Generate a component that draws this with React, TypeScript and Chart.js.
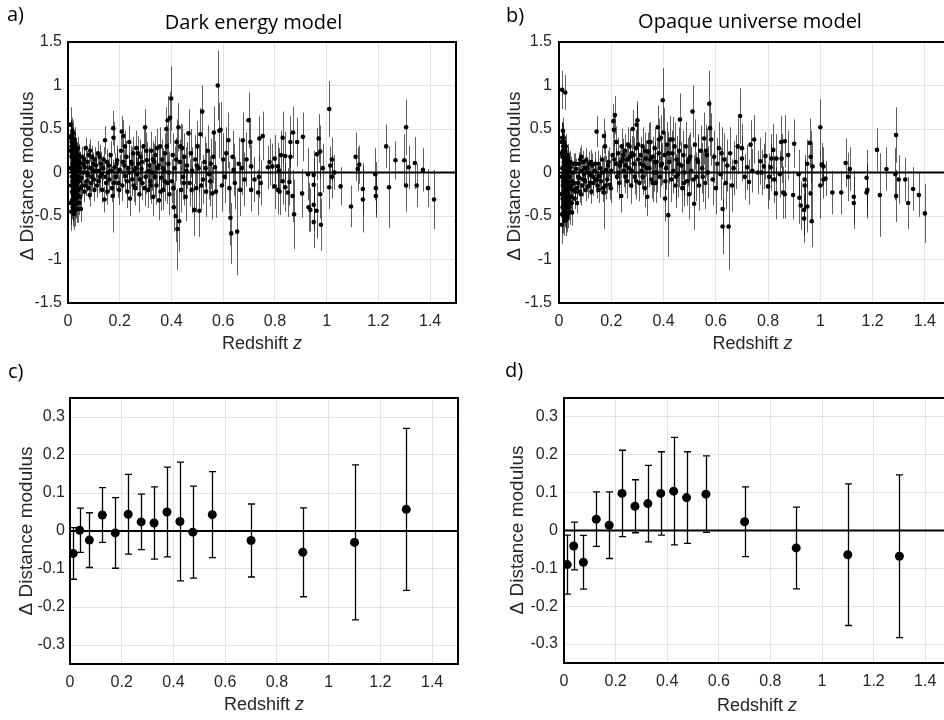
import React, { useEffect, useRef } from 'react';
import { Chart, registerables } from 'chart.js';

Chart.register(...registerables);

type SN = [number, number, number]; // [redshift z, Δ distance modulus, error]

// ---------- axis ticks ----------
const xTickValues = [0, 0.2, 0.4, 0.6, 0.8, 1, 1.2, 1.4];
const yTickValuesAll = [-1.5, -1, -0.5, 0, 0.5, 1, 1.5];
const yTickValuesBinned = [-0.3, -0.2, -0.1, 0, 0.1, 0.2, 0.3];

// ---------- text ----------
const panelLabels = ['a)', 'b)', 'c)', 'd)'];
const panelTitles = ['Dark energy model', 'Opaque universe model'];
const xAxisTitle = ['Redshift ', 'z'];
const yAxisTitle = 'Δ Distance modulus';

// ---------- panel a: dark energy model, individual supernovae ----------
const darkLowZ: SN[] = [
  [0.010, 0.55, 0.20], [0.012, 0.42, 0.18], [0.013, 0.30, 0.22], [0.014, 0.18, 0.25], [0.015, -0.05, 0.30],
  [0.016, 0.36, 0.16], [0.016, -0.22, 0.25], [0.017, 0.48, 0.15], [0.018, 0.10, 0.20], [0.018, -0.40, 0.22],
  [0.019, 0.25, 0.18], [0.020, -0.12, 0.22], [0.020, 0.05, 0.18], [0.021, 0.38, 0.14], [0.022, -0.30, 0.20],
  [0.022, 0.15, 0.16], [0.023, -0.02, 0.20], [0.024, 0.28, 0.15], [0.024, -0.18, 0.18], [0.025, 0.08, 0.16],
  [0.026, -0.44, 0.18], [0.026, 0.20, 0.14], [0.027, -0.08, 0.17], [0.028, 0.33, 0.13], [0.029, -0.25, 0.16],
  [0.030, 0.02, 0.15], [0.031, 0.12, 0.14], [0.032, -0.36, 0.17], [0.033, -0.14, 0.15], [0.034, 0.22, 0.13],
  [0.035, -0.04, 0.14], [0.036, 0.08, 0.13], [0.037, -0.42, 0.16], [0.038, 0.16, 0.13], [0.040, -0.20, 0.14],
  [0.041, 0.03, 0.12], [0.043, -0.10, 0.13], [0.045, 0.12, 0.12], [0.047, -0.28, 0.14], [0.048, 0.05, 0.12],
  [0.050, -0.42, 0.15], [0.052, -0.06, 0.12], [0.054, 0.18, 0.12], [0.056, -0.15, 0.12], [0.058, 0.00, 0.12],
  [0.060, 0.10, 0.12],
];
const darkLowZMore: SN[] = [
  [0.009, 0.25, 0.22], [0.010, -0.35, 0.25], [0.011, 0.05, 0.28], [0.011, 0.40, 0.20], [0.012, -0.15, 0.26],
  [0.013, -0.45, 0.22], [0.014, 0.35, 0.18], [0.015, 0.20, 0.20], [0.016, -0.32, 0.22], [0.017, 0.02, 0.22],
  [0.017, -0.10, 0.20], [0.018, 0.30, 0.16], [0.019, -0.25, 0.20], [0.020, 0.45, 0.15], [0.021, -0.38, 0.18],
  [0.022, 0.00, 0.18], [0.023, 0.22, 0.15], [0.024, -0.48, 0.18], [0.025, -0.12, 0.18], [0.026, 0.38, 0.14],
  [0.027, 0.12, 0.15], [0.028, -0.20, 0.16], [0.029, 0.25, 0.14], [0.030, -0.30, 0.16], [0.031, -0.08, 0.15],
  [0.032, 0.18, 0.14], [0.033, -0.42, 0.16], [0.034, 0.05, 0.14], [0.036, -0.25, 0.15], [0.038, 0.28, 0.13],
  [0.039, -0.05, 0.14], [0.042, 0.20, 0.13], [0.044, -0.35, 0.14], [0.046, 0.10, 0.13], [0.049, -0.18, 0.13],
];
const darkNearZ: SN[] = [
  [0.063, -0.22, 0.12], [0.066, 0.06, 0.12], [0.069, 0.28, 0.12], [0.072, -0.10, 0.12], [0.075, 0.12, 0.13],
  [0.078, -0.03, 0.12], [0.081, 0.20, 0.13], [0.084, -0.26, 0.13], [0.087, 0.05, 0.12], [0.090, -0.12, 0.13],
  [0.093, 0.18, 0.13], [0.096, 0.02, 0.12], [0.100, -0.08, 0.13], [0.104, 0.15, 0.14], [0.108, 0.08, 0.13],
  [0.112, -0.15, 0.14], [0.116, 0.22, 0.14], [0.120, 0.02, 0.14], [0.124, -0.05, 0.14], [0.128, 0.10, 0.14],
  [0.132, -0.20, 0.15], [0.136, 0.05, 0.14], [0.141, -0.31, 0.15], [0.143, 0.37, 0.16], [0.147, -0.12, 0.15],
  [0.150, 0.12, 0.15], [0.155, 0.00, 0.15], [0.160, -0.08, 0.15], [0.165, 0.20, 0.16], [0.170, -0.18, 0.16],
  [0.173, -0.27, 0.42], [0.175, 0.51, 0.20], [0.176, 0.40, 0.18], [0.180, 0.06, 0.16], [0.185, -0.05, 0.16],
  [0.190, 0.14, 0.17], [0.195, -0.12, 0.17], [0.200, 0.03, 0.17],
];
const darkBandMore: SN[] = [
  [0.062, 0.15, 0.12], [0.068, -0.15, 0.12], [0.074, 0.00, 0.12], [0.080, -0.18, 0.13], [0.086, 0.25, 0.13],
  [0.092, -0.05, 0.13], [0.098, 0.10, 0.13], [0.102, -0.20, 0.13], [0.110, 0.02, 0.13], [0.118, -0.10, 0.14],
  [0.122, 0.18, 0.14], [0.130, -0.02, 0.14], [0.138, 0.15, 0.14], [0.145, -0.05, 0.15], [0.152, -0.22, 0.15],
  [0.158, 0.08, 0.15], [0.168, 0.02, 0.16], [0.178, -0.12, 0.16], [0.188, 0.10, 0.17], [0.198, -0.20, 0.17],
  [0.212, 0.12, 0.18], [0.220, 0.30, 0.18], [0.228, -0.10, 0.18], [0.236, 0.00, 0.19], [0.246, 0.10, 0.19],
  [0.254, -0.15, 0.19], [0.262, 0.05, 0.20], [0.270, 0.22, 0.20], [0.278, -0.08, 0.20], [0.286, 0.12, 0.20],
  [0.296, -0.18, 0.21], [0.303, 0.25, 0.21], [0.312, 0.02, 0.21], [0.320, -0.15, 0.21], [0.328, 0.15, 0.21],
  [0.336, -0.05, 0.22], [0.344, 0.28, 0.22], [0.350, 0.08, 0.22], [0.358, -0.22, 0.22], [0.366, 0.05, 0.23],
  [0.374, -0.10, 0.23], [0.382, 0.30, 0.24], [0.390, 0.00, 0.24], [0.407, -0.18, 0.25], [0.418, 0.15, 0.25],
  [0.435, 0.30, 0.26], [0.448, -0.12, 0.26], [0.458, 0.02, 0.27], [0.478, -0.20, 0.27], [0.498, 0.08, 0.28],
  [0.515, -0.15, 0.28], [0.532, 0.05, 0.29], [0.550, -0.10, 0.29], [0.562, 0.18, 0.30],
];
const darkMidZ: SN[] = [
  [0.205, 0.25, 0.18], [0.208, 0.47, 0.18], [0.210, -0.15, 0.18], [0.214, 0.42, 0.18], [0.218, 0.08, 0.18],
  [0.222, -0.04, 0.18], [0.226, 0.18, 0.18], [0.230, -0.22, 0.19], [0.234, 0.05, 0.18], [0.237, 0.35, 0.19],
  [0.240, -0.30, 0.20], [0.244, 0.12, 0.19], [0.248, -0.08, 0.19], [0.252, 0.22, 0.19], [0.256, 0.02, 0.19],
  [0.260, -0.18, 0.20], [0.264, 0.28, 0.20], [0.268, -0.02, 0.19], [0.272, 0.10, 0.20], [0.276, -0.25, 0.21],
  [0.280, 0.18, 0.20], [0.284, 0.04, 0.20], [0.288, -0.12, 0.20], [0.292, 0.30, 0.21], [0.298, 0.52, 0.21],
  [0.300, -0.05, 0.20], [0.305, 0.14, 0.21], [0.310, -0.20, 0.21], [0.314, 0.08, 0.21], [0.318, -0.10, 0.21],
  [0.322, 0.25, 0.22], [0.326, 0.00, 0.21], [0.330, -0.28, 0.22], [0.334, 0.12, 0.21], [0.338, 0.20, 0.22],
  [0.342, -0.15, 0.22], [0.346, 0.05, 0.22], [0.352, -0.32, 0.23], [0.356, 0.30, 0.22], [0.360, -0.06, 0.22],
  [0.364, 0.15, 0.23], [0.368, -0.20, 0.23], [0.372, 0.02, 0.23], [0.376, 0.22, 0.23], [0.380, 0.50, 0.25],
  [0.384, -0.12, 0.24], [0.385, 0.60, 0.28], [0.388, 0.10, 0.24], [0.392, -0.25, 0.24], [0.395, 0.63, 0.30],
  [0.399, 0.85, 0.37],
];
const darkFarZ: SN[] = [
  [0.402, -0.10, 0.25], [0.405, 0.20, 0.25], [0.409, -0.40, 0.28], [0.412, 0.05, 0.25], [0.416, -0.50, 0.30],
  [0.420, 0.35, 0.26], [0.423, -0.65, 0.47], [0.427, 0.52, 0.28], [0.430, -0.56, 0.35], [0.433, 0.12, 0.26],
  [0.437, -0.20, 0.26], [0.441, 0.28, 0.27], [0.445, -0.05, 0.26], [0.450, 0.18, 0.27], [0.455, -0.28, 0.28],
  [0.460, 0.08, 0.27], [0.466, 0.45, 0.28], [0.470, -0.12, 0.27], [0.475, 0.22, 0.28], [0.480, 0.02, 0.27],
  [0.488, -0.43, 0.30], [0.492, 0.15, 0.28], [0.496, -0.18, 0.28], [0.500, 0.30, 0.29], [0.505, 0.05, 0.28],
  [0.508, -0.44, 0.30], [0.512, 0.44, 0.30], [0.519, 0.70, 0.30], [0.522, -0.08, 0.28], [0.528, 0.12, 0.29],
  [0.534, -0.22, 0.29], [0.540, 0.25, 0.29], [0.546, -0.02, 0.29], [0.552, 0.10, 0.29], [0.558, -0.24, 0.30],
  [0.564, 0.46, 0.30], [0.568, 0.06, 0.30], [0.572, -0.22, 0.30], [0.579, 1.00, 0.40], [0.585, 0.48, 0.32],
  [0.590, 0.49, 0.32], [0.595, -0.15, 0.30], [0.600, 0.15, 0.30], [0.606, -0.05, 0.30], [0.612, 0.22, 0.30],
  [0.620, 0.37, 0.32], [0.624, -0.18, 0.30], [0.628, -0.52, 0.32], [0.631, -0.70, 0.35], [0.636, 0.18, 0.30],
  [0.640, 0.03, 0.30], [0.645, -0.12, 0.30], [0.654, -0.68, 0.50], [0.660, 0.10, 0.30], [0.666, -0.20, 0.30],
  [0.672, 0.05, 0.31], [0.676, 0.37, 0.32], [0.682, -0.08, 0.31], [0.690, 0.15, 0.31], [0.698, 0.60, 0.32],
];
const darkHighZ: SN[] = [
  [0.705, 0.35, 0.28], [0.708, 0.07, 0.25], [0.708, -0.20, 0.25], [0.721, -0.08, 0.26], [0.735, -0.23, 0.26],
  [0.740, 0.39, 0.26], [0.753, 0.42, 0.28], [0.738, -0.05, 0.24], [0.745, -0.12, 0.26], [0.773, 0.06, 0.25],
  [0.779, 0.12, 0.27], [0.790, 0.07, 0.26], [0.799, 0.16, 0.27], [0.799, -0.16, 0.26], [0.812, 0.07, 0.27],
  [0.815, 0.02, 0.26], [0.812, -0.20, 0.28], [0.818, -0.22, 0.27], [0.823, 0.20, 0.28], [0.830, 0.40, 0.30],
  [0.830, -0.10, 0.27], [0.840, 0.19, 0.28], [0.840, -0.17, 0.28], [0.850, -0.23, 0.28], [0.856, -0.11, 0.27],
  [0.860, 0.35, 0.30], [0.860, 0.18, 0.28], [0.868, -0.27, 0.30], [0.870, 0.46, 0.30], [0.874, -0.48, 0.40],
  [0.886, 0.35, 0.28], [0.908, 0.41, 0.28], [0.905, -0.24, 0.28], [0.928, -0.02, 0.30], [0.930, -0.40, 0.28],
  [0.937, -0.43, 0.25], [0.950, -0.03, 0.28], [0.950, -0.14, 0.30], [0.950, -0.37, 0.30], [0.950, -0.57, 0.30],
  [0.962, 0.21, 0.30], [0.961, -0.44, 0.32], [0.969, 0.39, 0.28], [0.975, 0.24, 0.30], [0.975, -0.25, 0.28],
  [0.978, -0.60, 0.30], [0.985, 0.05, 0.28], [1.010, 0.73, 0.32], [1.010, -0.17, 0.25], [1.014, 0.08, 0.22],
  [1.020, 0.15, 0.25], [1.020, -0.05, 0.25], [1.030, 0.00, 0.20], [1.054, -0.16, 0.22], [1.094, -0.39, 0.24],
  [1.112, 0.18, 0.28], [1.120, 0.04, 0.25], [1.126, 0.09, 0.22], [1.140, -0.19, 0.30], [1.140, -0.31, 0.38],
  [1.188, -0.02, 0.30], [1.190, -0.18, 0.30], [1.190, -0.27, 0.25], [1.230, 0.30, 0.25], [1.241, -0.17, 0.47],
  [1.266, 0.14, 0.22], [1.300, 0.14, 0.30], [1.307, 0.52, 0.32], [1.307, -0.15, 0.30], [1.317, 0.06, 0.25],
  [1.341, 0.11, 0.30], [1.348, -0.15, 0.25], [1.372, 0.03, 0.25], [1.392, -0.18, 0.22], [1.415, -0.31, 0.34],
];

// ---------- panel b: opaque universe model, individual supernovae ----------
const opaqueLowZ: SN[] = [
  [0.012, 0.95, 0.22], [0.024, 0.92, 0.20], [0.010, 0.22, 0.25], [0.011, -0.60, 0.22], [0.012, 0.40, 0.18],
  [0.013, 0.05, 0.28], [0.014, -0.30, 0.25], [0.015, 0.48, 0.15], [0.015, -0.15, 0.22], [0.016, 0.30, 0.18],
  [0.017, -0.50, 0.20], [0.018, 0.12, 0.20], [0.018, -0.05, 0.22], [0.019, -0.38, 0.20], [0.020, 0.35, 0.15],
  [0.020, -0.22, 0.20], [0.021, 0.02, 0.18], [0.022, 0.18, 0.16], [0.022, -0.45, 0.18], [0.023, -0.10, 0.18],
  [0.024, 0.26, 0.15], [0.025, -0.30, 0.18], [0.026, 0.08, 0.16], [0.026, -0.55, 0.18], [0.027, -0.18, 0.17],
  [0.028, 0.15, 0.14], [0.029, -0.02, 0.16], [0.030, -0.40, 0.17], [0.031, 0.05, 0.15], [0.032, -0.25, 0.16],
  [0.033, 0.20, 0.13], [0.034, -0.12, 0.15], [0.035, -0.47, 0.17], [0.036, 0.02, 0.14], [0.037, -0.32, 0.15],
  [0.038, 0.10, 0.13], [0.040, -0.18, 0.14], [0.041, -0.05, 0.13], [0.043, -0.45, 0.15], [0.045, 0.06, 0.12],
  [0.047, -0.28, 0.14], [0.048, -0.10, 0.12], [0.050, -0.46, 0.15], [0.052, 0.00, 0.12], [0.054, -0.20, 0.12],
  [0.056, 0.10, 0.12], [0.058, -0.12, 0.12], [0.060, -0.30, 0.12],
];
const opaqueLowZMore: SN[] = [
  [0.009, -0.25, 0.25], [0.010, 0.35, 0.22], [0.011, -0.05, 0.28], [0.012, -0.48, 0.22], [0.013, 0.18, 0.24],
  [0.014, -0.40, 0.22], [0.015, 0.25, 0.18], [0.016, -0.10, 0.22], [0.017, -0.35, 0.20], [0.017, 0.40, 0.16],
  [0.018, -0.22, 0.20], [0.019, 0.08, 0.20], [0.020, -0.55, 0.18], [0.021, 0.28, 0.15], [0.022, -0.30, 0.18],
  [0.023, 0.12, 0.16], [0.024, -0.40, 0.18], [0.025, -0.05, 0.17], [0.026, 0.30, 0.14], [0.027, -0.48, 0.17],
  [0.028, -0.12, 0.16], [0.029, 0.10, 0.15], [0.030, -0.22, 0.16], [0.031, -0.52, 0.17], [0.032, 0.00, 0.15],
  [0.033, -0.35, 0.15], [0.034, 0.15, 0.14], [0.036, -0.20, 0.15], [0.038, -0.40, 0.15], [0.039, 0.05, 0.14],
  [0.042, -0.28, 0.14], [0.044, 0.12, 0.13], [0.046, -0.15, 0.13], [0.049, -0.35, 0.14],
];
const opaqueNearZ: SN[] = [
  [0.063, -0.22, 0.12], [0.066, 0.04, 0.12], [0.069, -0.35, 0.12], [0.072, -0.12, 0.12], [0.075, 0.10, 0.13],
  [0.078, -0.06, 0.12], [0.081, 0.15, 0.13], [0.084, -0.25, 0.13], [0.087, 0.02, 0.12], [0.090, -0.15, 0.13],
  [0.093, 0.12, 0.13], [0.096, -0.02, 0.12], [0.100, -0.10, 0.13], [0.104, 0.14, 0.14], [0.108, 0.05, 0.13],
  [0.112, -0.16, 0.14], [0.116, 0.10, 0.14], [0.120, -0.03, 0.14], [0.124, -0.22, 0.14], [0.128, 0.08, 0.14],
  [0.132, -0.12, 0.15], [0.136, 0.02, 0.14], [0.140, -0.08, 0.15], [0.144, 0.47, 0.18], [0.147, -0.15, 0.15],
  [0.150, 0.10, 0.15], [0.155, -0.04, 0.15], [0.160, -0.10, 0.15], [0.165, 0.15, 0.16], [0.170, -0.18, 0.16],
  [0.172, -0.23, 0.42], [0.172, 0.42, 0.20], [0.176, 0.30, 0.18], [0.180, 0.03, 0.16], [0.185, -0.08, 0.16],
  [0.190, 0.12, 0.17], [0.195, -0.14, 0.17], [0.200, 0.02, 0.17],
];
const opaqueBandMore: SN[] = [
  [0.062, 0.10, 0.12], [0.068, -0.18, 0.12], [0.074, -0.05, 0.12], [0.080, -0.22, 0.13], [0.086, 0.18, 0.13],
  [0.092, -0.08, 0.13], [0.098, 0.05, 0.13], [0.102, -0.20, 0.13], [0.110, 0.00, 0.13], [0.118, -0.12, 0.14],
  [0.122, 0.12, 0.14], [0.130, -0.05, 0.14], [0.138, 0.10, 0.14], [0.145, -0.08, 0.15], [0.152, -0.20, 0.15],
  [0.158, 0.05, 0.15], [0.168, 0.00, 0.16], [0.178, -0.15, 0.16], [0.188, 0.08, 0.17], [0.198, -0.18, 0.17],
  [0.212, 0.15, 0.18], [0.220, 0.35, 0.18], [0.228, 0.00, 0.18], [0.236, 0.12, 0.19], [0.246, 0.20, 0.19],
  [0.254, -0.05, 0.19], [0.262, 0.15, 0.20], [0.270, 0.30, 0.20], [0.278, 0.02, 0.20], [0.286, 0.20, 0.20],
  [0.296, -0.10, 0.21], [0.303, 0.32, 0.21], [0.312, 0.10, 0.21], [0.320, -0.05, 0.21], [0.328, 0.25, 0.21],
  [0.336, 0.05, 0.22], [0.344, 0.35, 0.22], [0.350, 0.15, 0.22], [0.358, -0.12, 0.22], [0.366, 0.12, 0.23],
  [0.374, 0.00, 0.23], [0.382, 0.38, 0.24], [0.390, 0.08, 0.24], [0.407, -0.10, 0.25], [0.418, 0.22, 0.25],
  [0.435, 0.38, 0.26], [0.448, -0.05, 0.26], [0.458, 0.10, 0.27], [0.478, -0.12, 0.27], [0.498, 0.15, 0.28],
  [0.515, -0.08, 0.28], [0.532, 0.12, 0.29], [0.550, -0.05, 0.29], [0.562, 0.25, 0.30],
];
const opaqueMidZ: SN[] = [
  [0.205, 0.20, 0.18], [0.208, 0.59, 0.20], [0.210, 0.49, 0.19], [0.214, 0.66, 0.22], [0.218, 0.10, 0.18],
  [0.222, -0.05, 0.18], [0.226, 0.22, 0.18], [0.230, -0.12, 0.19], [0.234, 0.08, 0.18], [0.238, -0.27, 0.19],
  [0.240, 0.30, 0.20], [0.244, 0.15, 0.19], [0.248, 0.02, 0.19], [0.252, 0.25, 0.19], [0.256, 0.08, 0.19],
  [0.260, -0.10, 0.20], [0.264, 0.32, 0.20], [0.268, 0.05, 0.19], [0.272, 0.18, 0.20], [0.276, -0.15, 0.21],
  [0.280, 0.22, 0.20], [0.282, 0.50, 0.22], [0.286, 0.10, 0.20], [0.290, -0.05, 0.20], [0.294, 0.28, 0.21],
  [0.297, 0.55, 0.22], [0.300, 0.60, 0.22], [0.304, 0.15, 0.21], [0.308, -0.12, 0.21], [0.312, 0.20, 0.21],
  [0.316, 0.02, 0.21], [0.320, 0.30, 0.22], [0.324, 0.08, 0.21], [0.328, -0.18, 0.22], [0.332, 0.16, 0.21],
  [0.338, -0.28, 0.22], [0.342, 0.24, 0.22], [0.346, 0.05, 0.22], [0.350, 0.35, 0.23], [0.354, -0.08, 0.22],
  [0.358, 0.18, 0.23], [0.362, 0.00, 0.22], [0.366, 0.28, 0.23], [0.370, -0.12, 0.23], [0.374, 0.12, 0.23],
  [0.378, 0.52, 0.25], [0.382, 0.22, 0.24], [0.386, -0.05, 0.24], [0.390, 0.40, 0.26], [0.394, 0.10, 0.24],
  [0.397, 0.83, 0.37], [0.400, 0.46, 0.28],
];
const opaqueFarZ: SN[] = [
  [0.404, 0.20, 0.25], [0.406, -0.30, 0.26], [0.410, 0.05, 0.25], [0.414, 0.32, 0.26], [0.418, -0.49, 0.48],
  [0.422, 0.12, 0.25], [0.426, 0.38, 0.27], [0.430, -0.08, 0.26], [0.434, 0.22, 0.26], [0.438, 0.02, 0.26],
  [0.442, 0.30, 0.27], [0.446, -0.15, 0.26], [0.450, 0.15, 0.27], [0.455, -0.02, 0.27], [0.460, 0.25, 0.27],
  [0.463, 0.61, 0.30], [0.468, 0.08, 0.27], [0.472, -0.18, 0.28], [0.476, 0.20, 0.28], [0.480, 0.00, 0.27],
  [0.485, 0.30, 0.28], [0.490, -0.10, 0.28], [0.494, 0.12, 0.28], [0.498, -0.25, 0.29], [0.502, 0.18, 0.28],
  [0.506, 0.02, 0.28], [0.511, 0.70, 0.30], [0.517, -0.36, 0.30], [0.520, 0.32, 0.29], [0.525, -0.05, 0.28],
  [0.530, 0.15, 0.29], [0.536, -0.15, 0.29], [0.542, 0.25, 0.29], [0.548, 0.05, 0.29], [0.555, 0.39, 0.30],
  [0.560, -0.12, 0.30], [0.566, 0.20, 0.30], [0.570, 0.00, 0.30], [0.575, 0.79, 0.38], [0.578, 0.51, 0.32],
  [0.582, 0.38, 0.30], [0.588, -0.08, 0.30], [0.594, 0.18, 0.30], [0.600, -0.18, 0.30], [0.606, 0.10, 0.30],
  [0.612, 0.28, 0.30], [0.618, -0.02, 0.30], [0.622, 0.22, 0.30], [0.626, -0.42, 0.30], [0.626, -0.62, 0.32],
  [0.632, 0.15, 0.30], [0.638, -0.12, 0.30], [0.644, 0.08, 0.30], [0.649, -0.62, 0.50], [0.655, 0.22, 0.30],
  [0.662, -0.15, 0.30], [0.668, 0.05, 0.31], [0.676, 0.12, 0.31], [0.684, 0.30, 0.32], [0.693, 0.65, 0.32],
];
const opaqueHighZ: SN[] = [
  [0.700, 0.28, 0.28], [0.700, 0.16, 0.26], [0.711, -0.05, 0.26], [0.720, 0.06, 0.26], [0.727, -0.11, 0.26],
  [0.733, 0.32, 0.28], [0.740, 0.02, 0.25], [0.747, 0.38, 0.28], [0.760, 0.00, 0.25], [0.771, 0.13, 0.27],
  [0.775, 0.00, 0.26], [0.784, 0.07, 0.26], [0.790, 0.19, 0.27], [0.800, -0.16, 0.26], [0.804, -0.05, 0.27],
  [0.810, 0.06, 0.27], [0.813, 0.16, 0.28], [0.820, 0.26, 0.30], [0.823, -0.08, 0.27], [0.830, -0.24, 0.30],
  [0.832, 0.16, 0.28], [0.845, -0.02, 0.27], [0.850, 0.35, 0.30], [0.852, 0.16, 0.28], [0.858, -0.23, 0.30],
  [0.864, 0.36, 0.30], [0.864, -0.25, 0.28], [0.877, 0.20, 0.28], [0.896, -0.26, 0.28], [0.900, 0.33, 0.28],
  [0.917, -0.02, 0.28], [0.920, -0.29, 0.30], [0.925, -0.38, 0.28], [0.938, -0.43, 0.30], [0.938, -0.53, 0.28],
  [0.940, -0.08, 0.28], [0.940, -0.15, 0.30], [0.950, 0.10, 0.28], [0.950, -0.39, 0.30], [0.960, 0.34, 0.28],
  [0.963, -0.24, 0.30], [0.963, 0.18, 0.30], [0.967, -0.56, 0.30], [0.970, 0.07, 0.28], [1.000, 0.52, 0.32],
  [1.000, -0.15, 0.38], [1.005, 0.09, 0.25], [1.012, 0.07, 0.22], [1.012, -0.08, 0.22], [1.020, -0.07, 0.20],
  [1.046, -0.23, 0.25], [1.080, -0.23, 0.25], [1.097, 0.11, 0.28], [1.106, -0.05, 0.28], [1.113, 0.04, 0.25],
  [1.128, -0.28, 0.30], [1.128, -0.35, 0.30], [1.177, -0.06, 0.32], [1.177, -0.23, 0.30], [1.180, -0.20, 0.30],
  [1.217, 0.26, 0.25], [1.228, -0.26, 0.48], [1.253, 0.04, 0.25], [1.287, -0.02, 0.30], [1.290, 0.43, 0.32],
  [1.290, -0.27, 0.30], [1.300, -0.08, 0.28], [1.325, -0.08, 0.25], [1.336, -0.35, 0.30], [1.355, -0.19, 0.25],
  [1.377, -0.26, 0.25], [1.400, -0.47, 0.34],
];

// ---------- panels c & d: binned residuals ----------
const binZ = [0.0125, 0.0375, 0.075, 0.125, 0.175, 0.225, 0.275, 0.325, 0.375, 0.425, 0.475, 0.55, 0.7, 0.9, 1.1, 1.3];
const binDarkMu = [-0.059, 0.002, -0.024, 0.042, -0.005, 0.044, 0.024, 0.021, 0.050, 0.025, -0.003, 0.043, -0.025, -0.056, -0.030, 0.057];
const binDarkErr = [0.068, 0.058, 0.072, 0.072, 0.093, 0.105, 0.073, 0.095, 0.118, 0.156, 0.121, 0.113, 0.096, 0.117, 0.204, 0.213];
const binOpaqueMu = [-0.090, -0.041, -0.084, 0.030, 0.014, 0.098, 0.064, 0.071, 0.098, 0.104, 0.087, 0.096, 0.023, -0.046, -0.064, -0.068];
const binOpaqueErr = [0.078, 0.063, 0.071, 0.072, 0.088, 0.114, 0.070, 0.101, 0.110, 0.142, 0.121, 0.101, 0.092, 0.108, 0.187, 0.215];

const TICK_FONT = '"Liberation Sans", Arial, sans-serif';
const TITLE_FONT = '"Open Sans", "Noto Sans", sans-serif';
const GRID = '#e2e2e2';
const TICK_COLOR = '#262626';

interface PanelSpec {
  left: number; top: number; width: number; height: number;
  area: { left: number; top: number; right: number; bottom: number };
  yMin: number; yMax: number; yTicks: number[]; yPad: number;
  label: string; labelX: number; labelY: number;
  title?: string; titleX?: number; titleY?: number;
  xTitleX: number; xTitleY: number; yTitleX: number; yTitleY: number;
  xs: number[]; ys: number[]; errs: number[];
  dotR: number; barColor: string; barW: number; cap: number;
}

function split(groups: SN[][]) {
  const all = groups.flat();
  return { xs: all.map((p) => p[0]), ys: all.map((p) => p[1]), errs: all.map((p) => p[2]) };
}

const A = split([darkLowZ, darkLowZMore, darkNearZ, darkBandMore, darkMidZ, darkFarZ, darkHighZ]);
const B = split([opaqueLowZ, opaqueLowZMore, opaqueNearZ, opaqueBandMore, opaqueMidZ, opaqueFarZ, opaqueHighZ]);

const panels: PanelSpec[] = [
  {
    left: 0, top: 0, width: 470, height: 360,
    area: { left: 68, top: 42, right: 456, bottom: 303 },
    yMin: -1.5, yMax: 1.5, yTicks: yTickValuesAll, yPad: 6,
    label: panelLabels[0], labelX: 7, labelY: 21,
    title: panelTitles[0], titleX: 253.5, titleY: 29,
    xTitleX: 262, xTitleY: 349, yTitleX: 33, yTitleY: 176,
    xs: A.xs, ys: A.ys, errs: A.errs,
    dotR: 2.3, barColor: 'rgba(0,0,0,0.62)', barW: 1, cap: 0,
  },
  {
    left: 470, top: 0, width: 500, height: 360,
    area: { left: 89, top: 42, right: 481, bottom: 303 },
    yMin: -1.5, yMax: 1.5, yTicks: yTickValuesAll, yPad: 7,
    label: panelLabels[1], labelX: 36, labelY: 22,
    title: panelTitles[1], titleX: 280, titleY: 28,
    xTitleX: 282.5, xTitleY: 349, yTitleX: 50, yTitleY: 176,
    xs: B.xs, ys: B.ys, errs: B.errs,
    dotR: 2.3, barColor: 'rgba(0,0,0,0.62)', barW: 1, cap: 0,
  },
  {
    left: 0, top: 360, width: 470, height: 360,
    area: { left: 70, top: 38, right: 458, bottom: 304 },
    yMin: -0.35, yMax: 0.35, yTicks: yTickValuesBinned, yPad: 5,
    label: panelLabels[2], labelX: 8, labelY: 18,
    xTitleX: 264, xTitleY: 350, yTitleX: 32, yTitleY: 171,
    xs: binZ, ys: binDarkMu, errs: binDarkErr,
    dotR: 4.5, barColor: '#000', barW: 1.3, cap: 3.5,
  },
  {
    left: 470, top: 360, width: 500, height: 360,
    area: { left: 94, top: 38, right: 481, bottom: 303 },
    yMin: -0.35, yMax: 0.35, yTicks: yTickValuesBinned, yPad: 6,
    label: panelLabels[3], labelX: 35, labelY: 17,
    xTitleX: 287, xTitleY: 351, yTitleX: 53, yTitleY: 170,
    xs: binZ, ys: binOpaqueMu, errs: binOpaqueErr,
    dotR: 4.5, barColor: '#000', barW: 1.3, cap: 3.5,
  },
];

function Panel({ spec }: { spec: PanelSpec }) {
  const ref = useRef<HTMLCanvasElement | null>(null);

  useEffect(() => {
    const canvas = ref.current;
    if (!canvas) return;
    const s = spec;

    const errorBars = {
      id: 'errorBars',
      beforeDatasetsDraw(chart: any) {
        const ctx = chart.ctx;
        const xs = chart.scales.x;
        const ys = chart.scales.y;
        ctx.save();
        ctx.strokeStyle = s.barColor;
        ctx.lineWidth = s.barW;
        for (let i = 0; i < s.xs.length; i++) {
          const px = Math.round(xs.getPixelForValue(s.xs[i])) + 0.5;
          const y1 = ys.getPixelForValue(s.ys[i] + s.errs[i]);
          const y2 = ys.getPixelForValue(s.ys[i] - s.errs[i]);
          ctx.beginPath();
          ctx.moveTo(px, y1);
          ctx.lineTo(px, y2);
          if (s.cap > 0) {
            ctx.moveTo(px - s.cap, y1);
            ctx.lineTo(px + s.cap, y1);
            ctx.moveTo(px - s.cap, y2);
            ctx.lineTo(px + s.cap, y2);
          }
          ctx.stroke();
        }
        ctx.restore();
      },
    };

    const decorations = {
      id: 'decorations',
      afterDraw(chart: any) {
        const ctx = chart.ctx;
        const a = chart.chartArea;
        ctx.save();
        ctx.strokeStyle = '#000';
        ctx.lineWidth = 2;
        ctx.strokeRect(a.left, a.top, a.right - a.left, a.bottom - a.top);
        ctx.fillStyle = '#000';
        ctx.textBaseline = 'alphabetic';
        ctx.textAlign = 'left';
        ctx.font = `20px ${TITLE_FONT}`;
        ctx.fillText(s.label, s.labelX, s.labelY);
        if (s.title) {
          ctx.textAlign = 'center';
          ctx.font = `20px ${TITLE_FONT}`;
          ctx.fillText(s.title, s.titleX, s.titleY);
        }
        ctx.fillStyle = TICK_COLOR;
        ctx.textAlign = 'left';
        const fNormal = `18px ${TICK_FONT}`;
        const fItalic = `italic 18px ${TICK_FONT}`;
        ctx.font = fNormal;
        const w1 = ctx.measureText(xAxisTitle[0]).width;
        ctx.font = fItalic;
        const w2 = ctx.measureText(xAxisTitle[1]).width;
        const x0 = s.xTitleX - (w1 + w2) / 2;
        ctx.font = fNormal;
        ctx.fillText(xAxisTitle[0], x0, s.xTitleY);
        ctx.font = fItalic;
        ctx.fillText(xAxisTitle[1], x0 + w1, s.xTitleY);
        ctx.font = `19px ${TICK_FONT}`;
        ctx.textAlign = 'center';
        ctx.translate(s.yTitleX, s.yTitleY);
        ctx.rotate(-Math.PI / 2);
        ctx.fillText(yAxisTitle, 0, 0);
        ctx.restore();
      },
    };

    const chart = new Chart(canvas, {
      type: 'scatter',
      data: {
        datasets: [
          {
            type: 'line',
            data: [{ x: 0, y: 0 }, { x: 1.5, y: 0 }],
            borderColor: '#000',
            borderWidth: 2,
            pointRadius: 0,
            fill: false,
          } as any,
          {
            type: 'scatter',
            data: s.xs.map((x, i) => ({ x, y: s.ys[i] })),
            pointRadius: s.dotR,
            pointBackgroundColor: '#000',
            pointBorderWidth: 0,
            borderWidth: 0,
          } as any,
        ],
      },
      options: {
        responsive: false,
        animation: false,
        events: [],
        layout: {
          padding: { left: 0, top: s.area.top, right: s.width - s.area.right, bottom: 0 },
        },
        plugins: { legend: { display: false }, tooltip: { enabled: false }, title: { display: false } },
        scales: {
          x: {
            type: 'linear',
            min: 0,
            max: 1.5,
            afterBuildTicks: (axis: any) => {
              axis.ticks = xTickValues.map((v) => ({ value: v }));
            },
            afterFit: (axis: any) => {
              axis.height = s.height - s.area.bottom;
            },
            ticks: {
              callback: (v: any) => String(v),
              font: { family: TICK_FONT, size: 16 },
              color: TICK_COLOR,
              padding: 9,
              maxRotation: 0,
              autoSkip: false,
            },
            grid: { color: GRID, lineWidth: 1, drawTicks: false },
            border: { display: false },
          },
          y: {
            type: 'linear',
            min: s.yMin,
            max: s.yMax,
            afterBuildTicks: (axis: any) => {
              axis.ticks = s.yTicks.map((v) => ({ value: v }));
            },
            afterFit: (axis: any) => {
              axis.width = s.area.left;
            },
            ticks: {
              callback: (v: any) => String(v),
              font: { family: TICK_FONT, size: 16 },
              color: TICK_COLOR,
              padding: s.yPad,
              autoSkip: false,
            },
            grid: { color: GRID, lineWidth: 1, drawTicks: false },
            border: { display: false },
          },
        },
      },
      plugins: [errorBars, decorations],
    } as any);

    return () => chart.destroy();
  }, [spec]);

  return (
    <canvas
      ref={ref}
      width={spec.width}
      height={spec.height}
      style={{ position: 'absolute', left: spec.left, top: spec.top, width: spec.width, height: spec.height, display: 'block' }}
    />
  );
}

export default function App() {
  return (
    <div
      style={{
        position: 'absolute',
        left: 0,
        top: 0,
        width: 944,
        height: 720,
        overflow: 'hidden',
        background: '#fff',
      }}
    >
      {panels.map((p, i) => (
        <Panel key={i} spec={p} />
      ))}
    </div>
  );
}
